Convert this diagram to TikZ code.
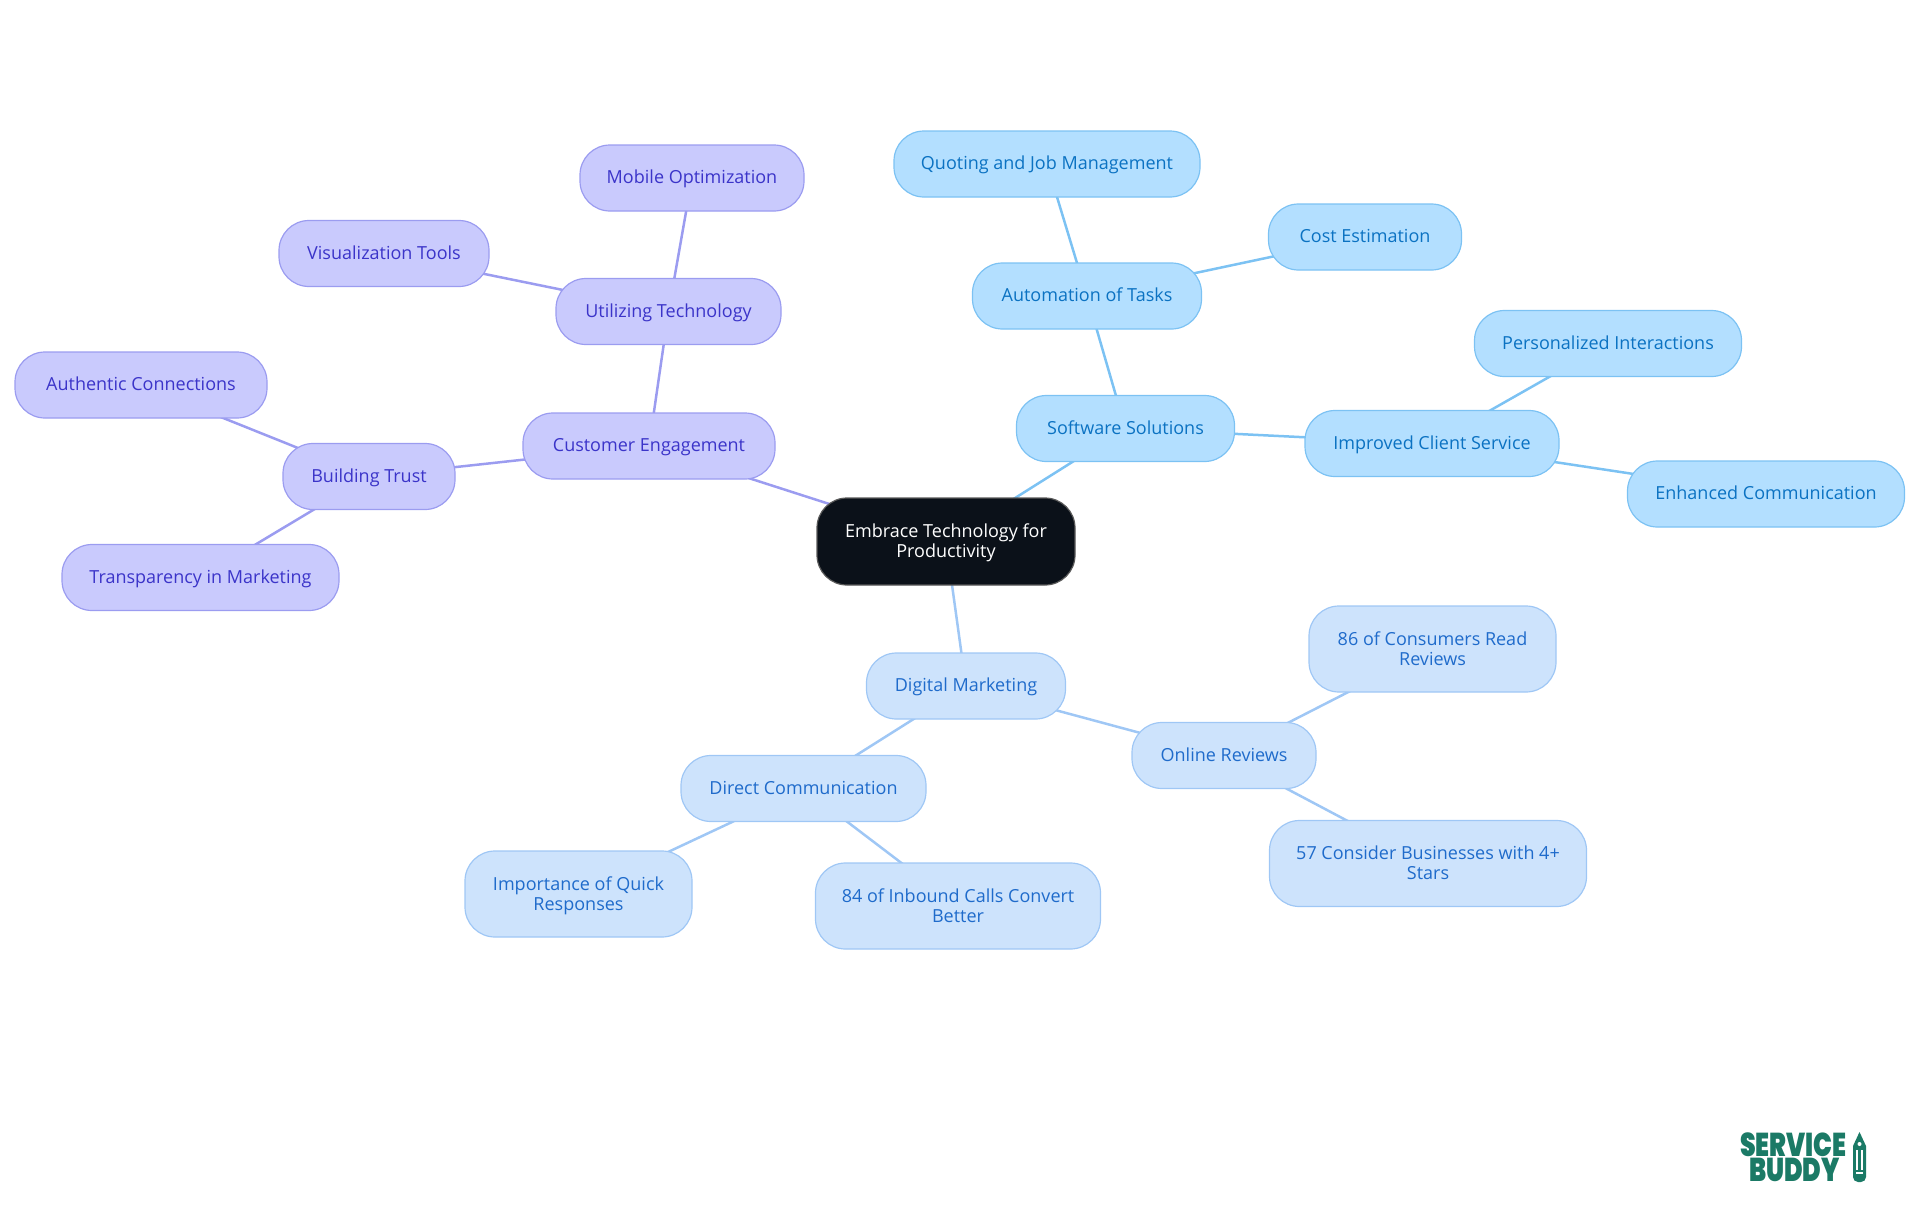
\documentclass[tikz,border=0pt]{standalone}
\usepackage{fontspec}
\setmainfont{Open Sans}
\newfontfamily\logofont{Poppins Black}[FakeStretch=0.76]
\usetikzlibrary{backgrounds}
\definecolor{violetfill}{HTML}{C9CAFD}
\definecolor{violetline}{HTML}{9B9CF0}
\definecolor{violettext}{HTML}{3B34C9}
\definecolor{skyfill}{HTML}{B3DFFF}
\definecolor{skyline}{HTML}{7CC2F3}
\definecolor{skytext}{HTML}{0B72C2}
\definecolor{palefill}{HTML}{CDE3FC}
\definecolor{paleline}{HTML}{9FC7F5}
\definecolor{paletext}{HTML}{1F6BCB}
\definecolor{rootfill}{HTML}{0B1119}
\definecolor{logogreen}{HTML}{1B7A66}
\newcommand{\uprule}{\rule{0pt}{17.5pt}}
\tikzset{
  x=1pt,y=-1pt,
  box/.style={rectangle,rounded corners=30pt,line width=1.2pt,minimum height=66pt,
    inner sep=0pt,align=center,font=\fontsize{18}{20}\selectfont,
    execute at begin node={\rule{0pt}{16pt}},execute at end node={\rule[-5pt]{0pt}{5pt}}},
  twoline/.style={minimum height=86pt},
  violetbox/.style={box,draw=violetline,fill=violetfill,text=violettext},
  skybox/.style={box,draw=skyline,fill=skyfill,text=skytext},
  palebox/.style={box,draw=paleline,fill=palefill,text=paletext},
  rootbox/.style={box,draw=gray!70!black,fill=rootfill,text=white,minimum height=87pt},
  violetedge/.style={draw=violetline,line width=2.5pt},
  skyedge/.style={draw=skyline,line width=2.5pt},
  paleedge/.style={draw=paleline,line width=2.5pt},
  logotext/.style={text=logogreen,inner sep=0pt,font=\logofont\fontsize{33}{33}\selectfont}
}
\begin{document}
\begin{tikzpicture}
\useasboundingbox (0,0) rectangle (1920,1215);
\node[rootbox,minimum width=258pt] (root) at (946,541.5) {\uprule Embrace Technology for\\Productivity};

\node[violetbox,minimum width=252pt] (customer) at (649,446) {Customer Engagement};
\node[violetbox,minimum width=225pt] (utilizing) at (668.5,311.5) {Utilizing Technology};
\node[violetbox,minimum width=224pt] (mobile) at (692,178) {Mobile Optimization};
\node[violetbox,minimum width=210pt] (visual) at (384,253.5) {Visualization Tools};
\node[violetbox,minimum width=172pt] (trust) at (369,476.5) {Building Trust};
\node[violetbox,minimum width=252pt] (authentic) at (141,385) {Authentic Connections};
\node[violetbox,minimum width=277pt] (transparency) at (200.5,577.5) {Transparency in Marketing};

\node[skybox,minimum width=218pt] (software) at (1125.5,428.5) {Software Solutions};
\node[skybox,minimum width=229pt] (automation) at (1087,296) {Automation of Tasks};
\node[skybox,minimum width=306pt] (quoting) at (1047,164) {Quoting and Job Management};
\node[skybox,minimum width=193pt] (cost) at (1365,237) {Cost Estimation};
\node[skybox,minimum width=254pt] (client) at (1432,443.5) {Improved Client Service};
\node[skybox,minimum width=267pt] (personal) at (1608,343.5) {Personalized Interactions};
\node[skybox,minimum width=277pt] (enhanced) at (1766,494) {Enhanced Communication};

\node[palebox,minimum width=199pt] (digital) at (966,686) {Digital Marketing};
\node[palebox,minimum width=184pt] (reviews) at (1224,755.5) {Online Reviews};
\node[palebox,twoline,minimum width=247pt] (consumers) at (1432.5,649) {\uprule 86 of Consumers Read\\Reviews};
\node[palebox,twoline,minimum width=317pt] (stars) at (1428,863.5) {\uprule 57 Consider Businesses with 4+\\Stars};
\node[palebox,minimum width=245pt] (direct) at (803.5,788.5) {Direct Communication};
\node[palebox,twoline,minimum width=227pt] (quick) at (578.5,894) {\uprule Importance of Quick\\Responses};
\node[palebox,twoline,minimum width=285pt] (inbound) at (958,906) {\uprule 84 of Inbound Calls Convert\\Better};

\begin{scope}[on background layer]
\draw[violetedge] (root.center) -- (customer.center);
\draw[violetedge] (customer.center) -- (utilizing.center);
\draw[violetedge] (utilizing.center) -- (mobile.center);
\draw[violetedge] (utilizing.center) -- (visual.center);
\draw[violetedge] (customer.center) -- (trust.center);
\draw[violetedge] (trust.center) -- (authentic.center);
\draw[violetedge] (trust.center) -- (transparency.center);
\draw[skyedge] (root.center) -- (software.center);
\draw[skyedge] (software.center) -- (automation.center);
\draw[skyedge] (automation.center) -- (quoting.center);
\draw[skyedge] (automation.center) -- (cost.center);
\draw[skyedge] (software.center) -- (client.center);
\draw[skyedge] (client.center) -- (personal.center);
\draw[skyedge] (client.center) -- (enhanced.center);
\draw[paleedge] (root.center) -- (digital.center);
\draw[paleedge] (digital.center) -- (reviews.center);
\draw[paleedge] (reviews.center) -- (consumers.center);
\draw[paleedge] (reviews.center) -- (stars.center);
\draw[paleedge] (digital.center) -- (direct.center);
\draw[paleedge] (direct.center) -- (quick.center);
\draw[paleedge] (direct.center) -- (inbound.center);
\end{scope}

\node[logotext] (service) at (1793.5,1145) {SERVICE};
\node[logotext] (buddy) at (1794.5,1170) {BUDDY};
\fill[logogreen] (1859.5,1132) -- (1866,1146) [rounded corners=5pt] -- (1866,1182) -- (1853,1182) [sharp corners] -- (1853,1146) -- cycle;
\fill[white] (1859.5,1144) circle (2pt);
\fill[white] (1855.7,1150) rectangle (1858,1170);
\fill[white] (1861,1150) rectangle (1863.3,1170);
\fill[white] (1855.7,1172) rectangle (1863.3,1174);
\end{tikzpicture}
\end{document}
